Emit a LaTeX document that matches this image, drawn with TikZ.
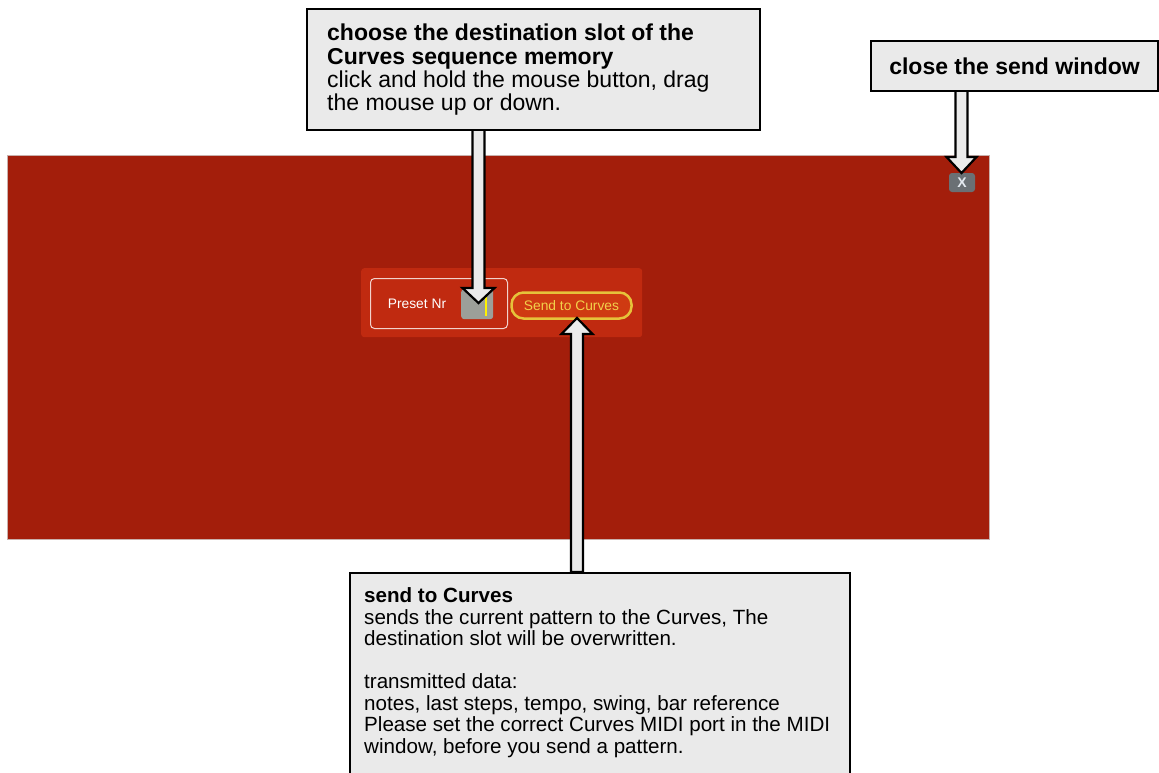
\documentclass[tikz,border=0pt]{standalone}
\usepackage{fontspec}
\setmainfont{Liberation Sans}
\usetikzlibrary{calc}
\definecolor{panelred}{HTML}{A31E0B}
\definecolor{panelborder}{HTML}{C9B0AC}
\definecolor{innerred}{HTML}{C02A10}
\definecolor{presetborder}{HTML}{F2D2CC}
\definecolor{knobgray}{HTML}{9C9F99}
\definecolor{btnorange}{HTML}{CF3A12}
\definecolor{btnyellow}{HTML}{E6C23A}
\definecolor{btntext}{HTML}{F2D04A}
\definecolor{closegray}{HTML}{6A7074}
\definecolor{closetext}{HTML}{E4EAF0}
\definecolor{boxgray}{HTML}{EAEAEA}
\definecolor{arrowgray}{HTML}{EBEBEB}
\begin{document}
\begin{tikzpicture}[x=1pt,y=-1pt,
  callout/.style={draw=black,line width=2pt,fill=boxgray,inner sep=0pt,anchor=north west},
  blockarrow/.style={draw=black,line width=2.2pt,fill=arrowgray,line join=miter},
  calltext/.style={anchor=base west,align=left,inner sep=0pt,font=\fontsize{23}{23.4}\selectfont},
  calltextsmall/.style={anchor=base west,align=left,inner sep=0pt,font=\fontsize{20.6}{21.5}\selectfont},
  uitext/.style={font=\fontsize{13.8}{15}\selectfont}]
\useasboundingbox (0,0) rectangle (1159,773);
\clip (0,0) rectangle (1159,773);
% window panel
\node[draw=panelborder,line width=1pt,fill=panelred,minimum width=982,minimum height=384,anchor=north west,inner sep=0] (panel) at (7,155) {};
\node[fill=innerred,rounded corners=3pt,minimum width=281,minimum height=69,anchor=north west,inner sep=0] (inner) at (361,268) {};
\node[draw=presetborder,line width=1pt,rounded corners=4pt,minimum width=137,minimum height=50,anchor=north west,inner sep=0] (presetbox) at (370,278) {};
\node[uitext,text=white,inner sep=0] (presetlbl) at (417,304) {Preset Nr};
\node[fill=knobgray,rounded corners=3pt,minimum width=32,minimum height=30,anchor=north west,inner sep=0] (knob) at (461,289) {};
\draw[yellow,line width=1.5pt] (486,296) -- (486,316);
\node[draw=btnyellow,line width=2.5pt,fill=btnorange,rounded corners=12pt,minimum width=120,minimum height=26,inner sep=0,uitext,text=btntext] (send) at (571.5,305.5) {Send to Curves};
\node[fill=closegray,rounded corners=3pt,minimum width=26,minimum height=19,inner sep=0,text=closetext,font=\bfseries\fontsize{14}{14}\selectfont] (close) at (962,182.5) {X};
% arrows
\coordinate (a1s) at (478.5,129);
\coordinate (a1t) at (478.5,303);
\draw[blockarrow] ($(a1s)+(-6,0)$) -- ($(a1t)+(-6,-15)$) -- ($(a1t)+(-16,-15)$) -- (a1t) -- ($(a1t)+(16,-15)$) -- ($(a1t)+(6,-15)$) -- ($(a1s)+(6,0)$) -- cycle;
\coordinate (a2s) at (961.5,90);
\coordinate (a2t) at (961.5,173);
\draw[blockarrow] ($(a2s)+(-6,0)$) -- ($(a2t)+(-6,-16)$) -- ($(a2t)+(-15,-16)$) -- (a2t) -- ($(a2t)+(15,-16)$) -- ($(a2t)+(6,-16)$) -- ($(a2s)+(6,0)$) -- cycle;
\coordinate (a3s) at (577,572);
\coordinate (a3t) at (577,318);
\draw[blockarrow] ($(a3s)+(-6,0)$) -- ($(a3t)+(-6,16)$) -- ($(a3t)+(-15.5,16)$) -- (a3t) -- ($(a3t)+(15.5,16)$) -- ($(a3t)+(6,16)$) -- ($(a3s)+(6,0)$) -- cycle;
% callout boxes
\node[callout,minimum width=453,minimum height=121] (box1) at (306,8) {};
\node[calltext] (t1) at (327,111) {\textbf{choose the destination slot of the}\\\textbf{Curves sequence memory}\\click and hold the mouse button, drag\\the mouse up or down.};
\node[callout,minimum width=287,minimum height=50] (box2) at (870,40) {};
\node[font=\bfseries\fontsize{23}{23.4}\selectfont,inner sep=0] (t2) at (box2.center) {close the send window};
\node[callout,minimum width=500,minimum height=210] (box3) at (349,572) {};
\node[calltextsmall] (t3) at (364,753) {\textbf{send to Curves}\\sends the current pattern to the Curves, The\\destination slot will be overwritten.\\[21.5pt]transmitted data:\\notes, last steps, tempo, swing, bar reference\\Please set the correct Curves MIDI port in the MIDI\\window, before you send a pattern.};
\end{tikzpicture}
\end{document}
